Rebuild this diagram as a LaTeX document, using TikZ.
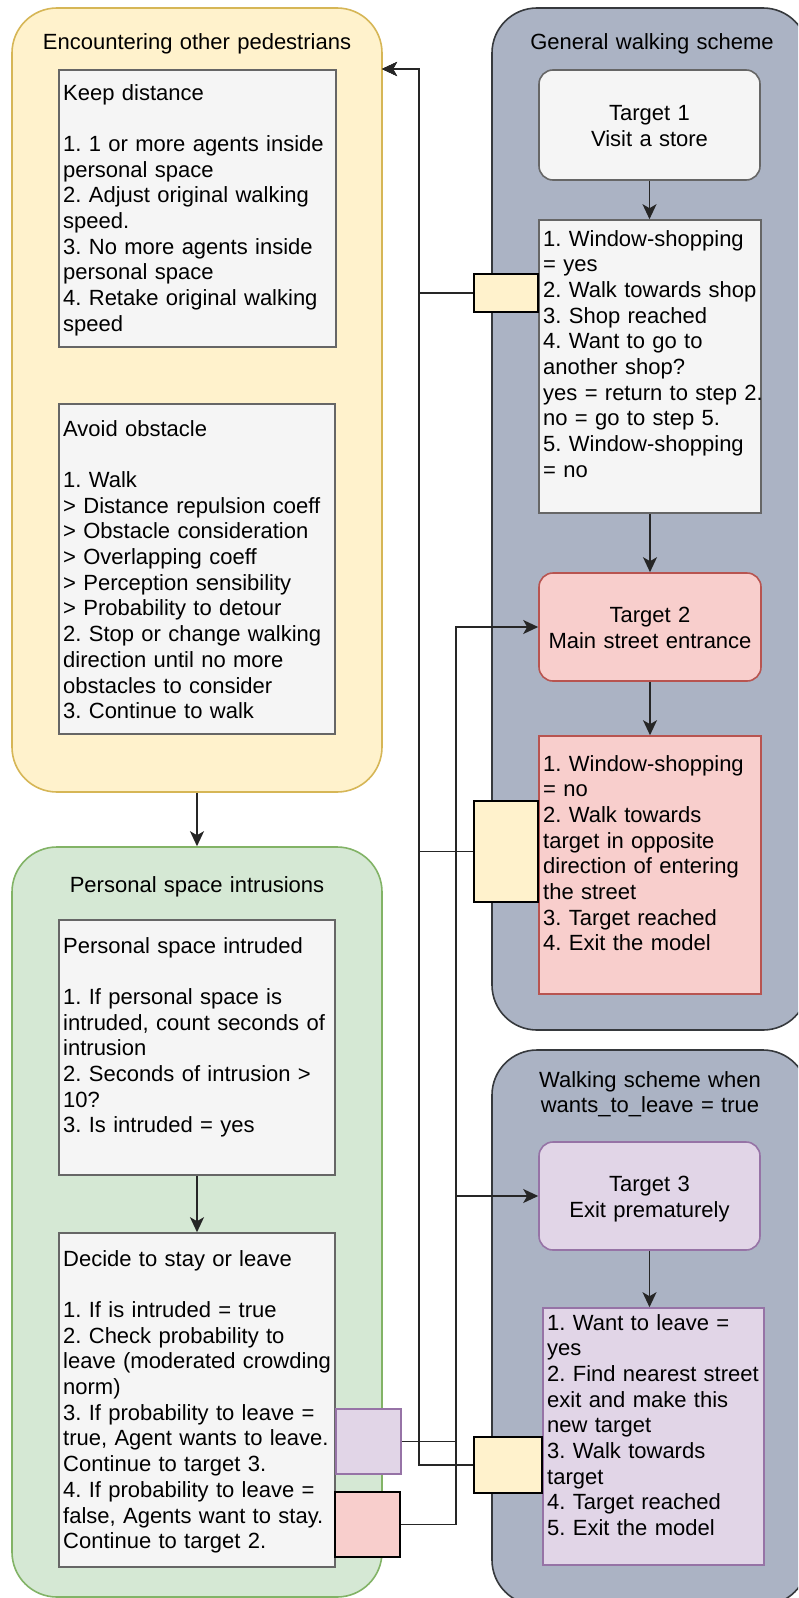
\documentclass[tikz,border=0pt]{standalone}
\usepackage{fontspec}
\setmainfont{Liberation Sans}
\usetikzlibrary{arrows.meta}
\frenchspacing
\definecolor{boxF}{HTML}{F5F5F5}
\definecolor{boxD}{HTML}{666666}
\definecolor{redF}{HTML}{F8CECC}
\definecolor{redD}{HTML}{B85450}
\definecolor{purF}{HTML}{E1D5E7}
\definecolor{purD}{HTML}{9673A6}
\definecolor{yelF}{HTML}{FFF2CC}
\definecolor{yelD}{HTML}{D6B656}
\definecolor{grnF}{HTML}{D5E8D4}
\definecolor{grnD}{HTML}{82B366}
\definecolor{gryF}{HTML}{ABB3C4}
\definecolor{gryD}{HTML}{36393D}
\begin{document}
\begin{tikzpicture}[x=1pt,y=-1pt,
  cont/.style={rectangle, rounded corners=45pt, line width=1.6pt, inner sep=0pt},
  lbox/.style={rectangle, line width=1.6pt, inner sep=0pt, fill=boxF, draw=boxD},
  rbox/.style={rectangle, line width=1.6pt, inner sep=0pt, fill=redF, draw=redD},
  pbox/.style={rectangle, line width=1.6pt, inner sep=0pt, fill=purF, draw=purD},
  tgt/.style={rounded corners=14pt},
  smbox/.style={rectangle, line width=1.6pt, inner sep=0pt, draw=black},
  txt/.style={anchor=base west, inner sep=0pt, text width=300pt, align=left, font=\fontsize{22}{25.7}\selectfont\frenchspacing},
  ctxt/.style={anchor=base, inner sep=0pt, text width=380pt, align=center, font=\fontsize{22}{25.7}\selectfont\frenchspacing},
  conn/.style={draw=black!85, line width=1.7pt},
  arr/.style={-{Stealth[length=15pt,width=14pt,inset=4pt]}}
]
\useasboundingbox (0,0) rectangle (798,1598);
\clip (0,0) rectangle (798,1598);
\fill[white] (0,0) rectangle (798,1598);

% containers
\node[cont, fill=yelF, draw=yelD, minimum width=370pt, minimum height=784pt] (yel) at (197,400) {};
\node[cont, fill=grnF, draw=grnD, minimum width=370pt, minimum height=750pt] (grn) at (197,1222) {};
\node[cont, fill=gryF, draw=gryD, minimum width=316pt, minimum height=1022pt] (gr1) at (650,519) {};
\node[cont, fill=gryF, draw=gryD, minimum width=316pt, minimum height=555pt] (gr2) at (650,1327.5) {};

% titles
\node[ctxt] (yelT) at (197,49) {Encountering other pedestrians};
\node[ctxt] (gr1T) at (652,49) {General walking scheme};
\node[ctxt] (grnT) at (197,892) {Personal space intrusions};
\node[ctxt] (gr2T) at (650,1087) {Walking scheme when\\ wants\_to\_leave = true};

% left boxes
\node[lbox, minimum width=277pt, minimum height=277pt] (kd) at (197.5,208.5) {};
\node[txt] (kdT) at (63,100) {Keep distance\\ \mbox{}\\ 1. 1 or more agents inside\\ personal space\\ 2. Adjust original walking\\ speed.\\ 3. No more agents inside\\ personal space\\ 4. Retake original walking\\ speed};

\node[lbox, minimum width=276pt, minimum height=330pt] (ao) at (197,569) {};
\node[txt] (aoT) at (63,436) {Avoid obstacle\\ \mbox{}\\ 1. Walk\\ > Distance repulsion coeff\\ > Obstacle consideration\\ > Overlapping coeff\\ > Perception sensibility\\ > Probability to detour\\ 2. Stop or change walking\\ direction until no more\\ obstacles to consider\\ 3. Continue to walk};

\node[lbox, minimum width=276pt, minimum height=255pt] (pi) at (197,1047.5) {};
\node[txt] (piT) at (63,953) {Personal space intruded\\ \mbox{}\\ 1. If personal space is\\ intruded, count seconds of\\ intrusion\\ 2. Seconds of intrusion >\\ 10?\\ 3. Is intruded = yes};

\node[lbox, minimum width=276pt, minimum height=334pt] (ds) at (197,1400) {};
\node[txt] (dsT) at (63,1266) {Decide to stay or leave\\ \mbox{}\\ 1. If is intruded = true\\ 2. Check probability to\\ leave (moderated crowding\\ norm)\\ 3. If probability to leave =\\ true, Agent wants to leave.\\ Continue to target 3.\\ 4. If probability to leave =\\ false, Agents want to stay.\\ Continue to target 2.};

% right boxes
\node[lbox, tgt, minimum width=221pt, minimum height=110pt] (t1) at (649.5,125) {};
\node[ctxt] (t1T) at (649.5,120.7) {Target 1\\ Visit a store};

\node[lbox, minimum width=222pt, minimum height=293pt] (s1) at (650,366.5) {};
\node[txt] (s1T) at (543,246) {1. Window-shopping\\ = yes\\ 2. Walk towards shop\\ 3. Shop reached\\ 4. Want to go to\\ another shop?\\ yes = return to step 2.\\ no = go to step 5.\\ 5. Window-shopping\\ = no};

\node[rbox, tgt, minimum width=222pt, minimum height=108pt] (t2) at (650,627) {};
\node[ctxt] (t2T) at (650,622.7) {Target 2\\ Main street entrance};

\node[rbox, minimum width=222pt, minimum height=258pt] (s2) at (650,865) {};
\node[txt] (s2T) at (543,771) {1. Window-shopping\\ = no\\ 2. Walk towards\\ target in opposite\\ direction of entering\\ the street\\ 3. Target reached\\ 4. Exit the model};

\node[pbox, tgt, minimum width=221pt, minimum height=108pt] (t3) at (649.5,1196) {};
\node[ctxt] (t3T) at (649.5,1191.7) {Target 3\\ Exit prematurely};

\node[pbox, minimum width=221pt, minimum height=257pt] (s3) at (653.5,1436.5) {};
\node[txt] (s3T) at (547,1330) {1. Want to leave =\\ yes\\ 2. Find nearest street\\ exit and make this\\ new target\\ 3. Walk towards\\ target\\ 4. Target reached\\ 5. Exit the model};

% small boxes
\node[smbox, fill=yelF, minimum width=64pt, minimum height=38pt] (y1) at (506,293) {};
\node[smbox, fill=yelF, minimum width=64pt, minimum height=101pt] (y2) at (506,851.5) {};
\node[smbox, fill=yelF, minimum width=68pt, minimum height=56pt] (y3) at (508,1465) {};
\node[smbox, fill=purF, draw=purD, minimum width=65pt, minimum height=65pt] (pp) at (368.5,1441.5) {};
\node[smbox, fill=redF, minimum width=65pt, minimum height=65pt] (rr) at (367.5,1524.5) {};

% bus coordinates
\coordinate (busA) at (419,0);
\coordinate (busB) at (456,0);
\coordinate (yin) at (382,69);

% connectors
\draw[conn, arr] (y1.west) -- (y1.west -| busA) |- (yin);
\draw[conn, arr] (y2.west) -- (y2.west -| busA) |- (yin);
\draw[conn, arr] (y3.west) -- (y3.west -| busA) |- (yin);
\draw[conn, arr] (rr.east) -- (rr.east -| busB) |- (t2.west);
\draw[conn, arr] (pp.east) -- (pp.east -| busB) |- (t3.west);

\draw[conn, arr] (yel.south) -- (grn.north);
\draw[conn, arr] (pi.south) -- (ds.north);
\draw[conn, arr] (t1.south) -- (t1.south |- s1.north);
\draw[conn, arr] (s1.south) -- (t2.north);
\draw[conn, arr] (t2.south) -- (s2.north);
\draw[conn, arr] (t3.south) -- (t3.south |- s3.north);
\end{tikzpicture}
\end{document}
